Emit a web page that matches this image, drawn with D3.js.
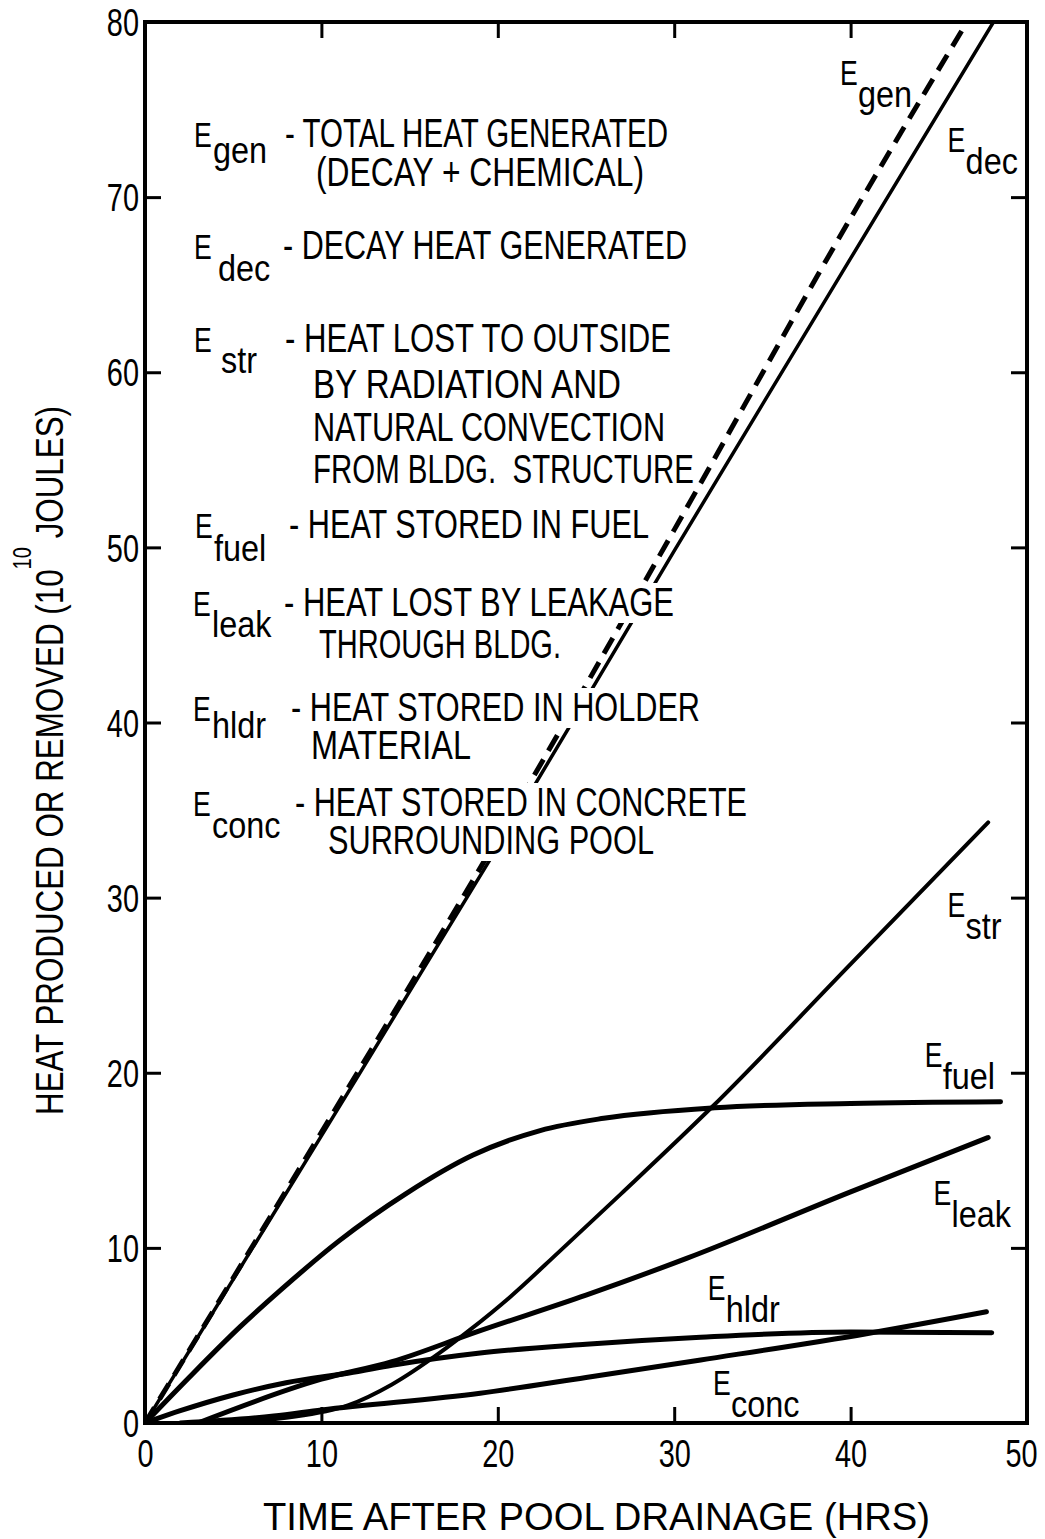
<!DOCTYPE html>
<html>
<head>
<meta charset="utf-8">
<script src="https://cdn.jsdelivr.net/npm/d3@7"></script>
<style>
  html, body { margin: 0; padding: 0; background: #fff; }
  svg text {
    font-family: "Liberation Sans", Arial, sans-serif;
    fill: #000;
    white-space: pre;
  }
</style>
</head>
<body>
<svg id="chart" width="1045" height="1539"></svg>
<script>
// Heat produced / removed after pool drainage
// x: hours after drainage, y: 10^10 joules
const xTicks = [0, 10, 20, 30, 40, 50];
const yTicks = [0, 10, 20, 30, 40, 50, 60, 70, 80];

const eGen  = [[0, 0], [10, 16.6], [20, 33.4], [30, 51.0], [40, 68.8], [46.6, 80]];
const eDec  = [[0, 0], [10, 16.4], [20, 32.9], [30, 49.8], [40, 66.5], [48.1, 80]];
const eStr  = [[4, 0], [8, 0.3], [11.5, 1.0], [14, 2.2], [16.7, 4.0], [18.4, 5.3], [20.7, 7.2],
               [23.5, 9.8], [27, 13.1], [32.2, 18.1], [40, 26.2], [47.8, 34.3]];
const eFuel = [[0, 0], [2.5, 2.6], [5.4, 5.5], [7.7, 7.6], [11, 10.4], [14.8, 13.1], [18.6, 15.3],
               [22.4, 16.7], [26, 17.4], [32.3, 18.0], [40, 18.25], [48.5, 18.35]];
const eLeak = [[3, 0], [10, 2.5], [14, 3.5], [18.8, 5.2], [25, 7.3], [30.7, 9.4], [40, 13.2], [47.8, 16.3]];
const eHldr = [[0, 0], [2, 0.7], [5, 1.6], [8, 2.3], [11.8, 2.9], [14, 3.3], [19, 4.0], [25, 4.5],
               [31.5, 4.9], [40, 5.2], [48, 5.15]];
const eConc = [[2, 0], [7.3, 0.4], [10, 0.75], [19, 1.7], [25, 2.6], [31.5, 3.6], [40.9, 5.1], [47.7, 6.35]];

// curve name labels, placed in data units (E baseline)
const curveLabels = [
  ["gen", 39.4, 76.4], ["dec", 45.5, 72.6], ["str", 45.5, 28.9], ["fuel", 44.2, 20.3],
  ["leak", 44.7, 12.45], ["hldr", 31.9, 7.0], ["conc", 32.2, 1.6]
];

// key text block (pixel layout)
const keyItems = [
  { sub: "gen",  ex: 194, ey: 147, sx: 213, sy: 163, lines: [["- TOTAL HEAT GENERATED", 285, 147, 383], ["(DECAY + CHEMICAL)", 316, 186, 328]] },
  { sub: "dec",  ex: 194, ey: 259, sx: 218, sy: 281, lines: [["- DECAY HEAT GENERATED", 283, 259, 404]] },
  { sub: "str",  ex: 194, ey: 352, sx: 221, sy: 373, lines: [["- HEAT LOST TO OUTSIDE", 285, 352, 386], ["BY RADIATION AND", 313, 398, 308],
                                                             ["NATURAL CONVECTION", 313, 441, 352], ["FROM BLDG.  STRUCTURE", 313, 483, 381]] },
  { sub: "fuel", ex: 195, ey: 538, sx: 214, sy: 561, lines: [["- HEAT STORED IN FUEL", 289, 538, 360]] },
  { sub: "leak", ex: 193, ey: 616, sx: 212, sy: 637, lines: [["- HEAT LOST BY LEAKAGE", 284, 616, 390], ["THROUGH BLDG.", 319, 658, 242]] },
  { sub: "hldr", ex: 193, ey: 721, sx: 212, sy: 738, lines: [["- HEAT STORED IN HOLDER", 291, 721, 409], ["MATERIAL", 311, 759, 160]] },
  { sub: "conc", ex: 193, ey: 816, sx: 212, sy: 838, lines: [["- HEAT STORED IN CONCRETE", 295, 816, 452], ["SURROUNDING POOL", 328, 854, 326]] }
];

const plotL = 145, plotR = 1027, plotT = 22, plotB = 1423;

// the original lettering is a condensed sans; squeeze the installed one
function squeeze(sel, f = 0.76) {
  sel.each(function () {
    const w = this.getComputedTextLength();
    d3.select(this).attr("textLength", w * f).attr("lengthAdjust", "spacingAndGlyphs");
  });
}

// "E" with a dropped subscript, in one text element
function eLabel(parent, ex, ey, sub, sx, sy) {
  const t = parent.append("text").attr("font-size", 35);
  t.append("tspan").attr("x", ex).attr("y", ey).text("E").call(squeeze, 0.76);
  t.append("tspan").attr("x", sx).attr("y", sy).attr("font-size", 36).text(sub).call(squeeze, 0.9);
  return t;
}

const svg = d3.select("#chart");
svg.append("rect").attr("width", 1045).attr("height", 1539).attr("fill", "#fff");

const x = d3.scaleLinear().domain([0, 50]).range([plotL, plotR]);
const y = d3.scaleLinear().domain([0, 80]).range([plotB, plotT]);

svg.append("clipPath").attr("id", "plotClip")
  .append("rect").attr("x", plotL).attr("y", plotT).attr("width", plotR - plotL).attr("height", plotB - plotT);

const line = d3.line().x(d => x(d[0])).y(d => y(d[1])).curve(d3.curveMonotoneX);

const curves = svg.append("g").attr("clip-path", "url(#plotClip)")
  .attr("fill", "none").attr("stroke", "#000").attr("stroke-linecap", "round");

curves.append("path").datum(eDec).attr("d", line).attr("stroke-width", 3.5);
curves.append("path").datum(eGen).attr("d", line).attr("stroke-width", 5)
  .attr("stroke-dasharray", "18,10").attr("stroke-linecap", "butt");
curves.append("path").datum(eStr).attr("d", line).attr("stroke-width", 4);
curves.append("path").datum(eFuel).attr("d", line).attr("stroke-width", 5);
curves.append("path").datum(eLeak).attr("d", line).attr("stroke-width", 5);
curves.append("path").datum(eHldr).attr("d", line).attr("stroke-width", 5);
curves.append("path").datum(eConc).attr("d", line).attr("stroke-width", 5);

// key text sits on white patches that break the lines, as in the original
const masks = svg.append("g").attr("fill", "#fff");
const key = svg.append("g");

keyItems.forEach(it => {
  eLabel(key, it.ex, it.ey, it.sub, it.sx, it.sy);
  it.lines.forEach(([txt, lx, ly, w]) => {
    masks.append("rect").attr("x", lx - 4).attr("y", ly - 33).attr("width", w + 8).attr("height", 40);
    key.append("text").attr("x", lx).attr("y", ly).attr("font-size", 40)
      .attr("textLength", w).attr("lengthAdjust", "spacingAndGlyphs").text(txt);
  });
});

// labels at the curve ends
const lbl = svg.append("g");
curveLabels.forEach(([sub, lx, ly]) => {
  eLabel(lbl, x(lx), y(ly), sub, x(lx) + 18, y(ly) + 22);
});

// frame
svg.append("rect").attr("x", plotL).attr("y", plotT).attr("width", plotR - plotL).attr("height", plotB - plotT)
  .attr("fill", "none").attr("stroke", "#000").attr("stroke-width", 4);

// inward ticks on all four sides
const innerX = xTicks.slice(1, -1), innerY = yTicks.slice(1, -1);
function tickStyle(g) {
  g.select(".domain").remove();
  g.selectAll(".tick line").attr("stroke", "#000").attr("stroke-width", 3);
}
svg.append("g").attr("transform", `translate(0,${plotB})`)
  .call(d3.axisBottom(x).tickValues(innerX).tickSize(-16).tickFormat("")).call(tickStyle);
svg.append("g").attr("transform", `translate(0,${plotT})`)
  .call(d3.axisTop(x).tickValues(innerX).tickSize(-16).tickFormat("")).call(tickStyle);
svg.append("g").attr("transform", `translate(${plotL},0)`)
  .call(d3.axisLeft(y).tickValues(innerY).tickSize(-16).tickFormat("")).call(tickStyle);
svg.append("g").attr("transform", `translate(${plotR},0)`)
  .call(d3.axisRight(y).tickValues(innerY).tickSize(-16).tickFormat("")).call(tickStyle);

// tick labels
const xl = svg.append("g").attr("transform", `translate(0,${plotB})`)
  .call(d3.axisBottom(x).tickValues(xTicks).tickSize(0).tickPadding(17));
xl.select(".domain").remove();
xl.attr("font-family", null).attr("font-size", null);
xl.selectAll("text").attr("font-size", 38).attr("fill", "#000").call(squeeze);
xl.selectAll(".tick").filter(d => d === 50).select("text").attr("dx", -6);

const yl = svg.append("g").attr("transform", `translate(${plotL},0)`)
  .call(d3.axisLeft(y).tickValues(yTicks).tickSize(0).tickPadding(6));
yl.select(".domain").remove();
yl.attr("font-family", null).attr("font-size", null);
yl.selectAll("text").attr("font-size", 38).attr("fill", "#000").attr("dy", "0.36em").call(squeeze);

// axis titles
svg.append("text").attr("x", 263).attr("y", 1530).attr("font-size", 38)
  .attr("textLength", 667).attr("lengthAdjust", "spacingAndGlyphs")
  .text("TIME AFTER POOL DRAINAGE (HRS)");

const yt = svg.append("text").attr("transform", "translate(63,1115) rotate(-90)")
  .attr("font-size", 39).attr("textLength", 709).attr("lengthAdjust", "spacingAndGlyphs");
yt.append("tspan").text("HEAT PRODUCED OR REMOVED (10");
yt.append("tspan").attr("dy", -32).attr("font-size", 25).text("10");
yt.append("tspan").attr("dy", 32).text(" JOULES)");
</script>
</body>
</html>
